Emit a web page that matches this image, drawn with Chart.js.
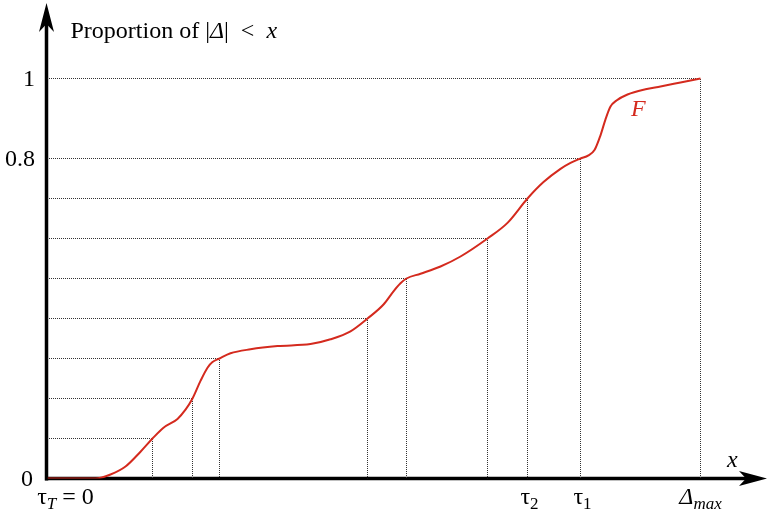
<!DOCTYPE html>
<html>
<head>
<meta charset="utf-8">
<script src="https://cdn.jsdelivr.net/npm/chart.js@4.4.1/dist/chart.umd.min.js"></script>
<style>
  html, body { margin: 0; padding: 0; background: #ffffff; }
  #wrap { width: 768px; height: 512px; }
</style>
</head>
<body>
<div id="wrap"><canvas id="c" width="768" height="512"></canvas></div>
<script>
// ---- data ----
const curveX = [0, 48, 63, 78, 93, 105, 116, 130, 138, 145, 153, 160, 165, 172, 183, 203, 230, 263, 283, 303, 320, 336, 346, 353, 359, 373, 393, 413, 440, 460, 480, 496, 513, 523, 533, 541, 547, 553, 558, 563, 569, 580, 598, 613, 633, 653];
const curveY = [0, 0, 0.010, 0.030, 0.067, 0.1, 0.127, 0.149, 0.172, 0.2, 0.244, 0.277, 0.291, 0.3, 0.313, 0.323, 0.331, 0.336, 0.348, 0.368, 0.4, 0.435, 0.468, 0.488, 0.5, 0.512, 0.530, 0.555, 0.6, 0.639, 0.7, 0.741, 0.774, 0.789, 0.8, 0.808, 0.821, 0.858, 0.898, 0.930, 0.945, 0.960, 0.973, 0.980, 0.990, 1.0];
const levelY = [0.1, 0.2, 0.3, 0.4, 0.5, 0.6, 0.7, 0.8, 1.0];
const levelX = [105, 145, 172, 320, 359, 440, 480, 533, 653];
const yTickValues = [0, 0.8, 1];
const yTickLabels = ['0', '0.8', '1'];
const xTickValues = [480, 533];
const xTickLabels = ['τ', 'τ'];
const xTickSubs = ['2', '1'];
const xOriginLabel = 'τ';
const xOriginSub = 'T';
const xOriginValue = 0;
const xMaxValue = 653;
const xMaxLabel = 'Δ';
const xMaxSub = 'max';
const yTitleParts = [['Proportion of |', false], ['Δ', true], ['|  <  ', false], ['x', true]];
const xTitle = 'x';
const curveName = 'F';

// ---- datasets ----
const curvePoints = curveX.map((x, i) => ({ x: x, y: curveY[i] }));
const datasets = [{
  label: curveName,
  data: curvePoints,
  borderColor: '#d42a1e',
  borderWidth: 2,
  pointRadius: 0,
  cubicInterpolationMode: 'monotone',
  fill: false
}];
levelY.forEach((y, i) => {
  datasets.push({
    label: 'guide' + i,
    data: [{ x: 0, y: y }, { x: levelX[i], y: y }, { x: levelX[i], y: 0 }],
    borderColor: '#333333',
    borderWidth: 1,
    borderDash: [1, 1],
    borderDashOffset: 0.5,
    pointRadius: 0,
    tension: 0,
    fill: false
  });
});

const SERIF = '"Liberation Serif", "DejaVu Serif", serif';
const FS = 24, SFS = 17;

const decor = {
  id: 'decor',
  beforeDatasetsDraw(chart) {
    const ctx = chart.ctx;
    const xs = chart.scales.x, ys = chart.scales.y;
    const x0 = Math.round(xs.getPixelForValue(0)) - 1.5;
    const y0 = ys.getPixelForValue(0);
    ctx.save();
    ctx.strokeStyle = '#000';
    ctx.fillStyle = '#000';
    ctx.lineWidth = 3.5;
    // y axis
    ctx.beginPath();
    ctx.moveTo(x0, y0 + 2);
    ctx.lineTo(x0, 20);
    ctx.stroke();
    // x axis
    ctx.beginPath();
    ctx.moveTo(x0 - 1.5, y0);
    ctx.lineTo(752, y0);
    ctx.stroke();
    // y arrow
    ctx.beginPath();
    ctx.moveTo(x0, 3);
    ctx.lineTo(x0 - 7.5, 32);
    ctx.lineTo(x0, 24);
    ctx.lineTo(x0 + 7.5, 32);
    ctx.closePath();
    ctx.fill();
    // x arrow
    ctx.beginPath();
    ctx.moveTo(767, y0);
    ctx.lineTo(739, y0 - 7.5);
    ctx.lineTo(746, y0);
    ctx.lineTo(739, y0 + 7.5);
    ctx.closePath();
    ctx.fill();
    ctx.restore();
  },
  afterDatasetsDraw(chart) {
    const ctx = chart.ctx;
    const xs = chart.scales.x, ys = chart.scales.y;
    ctx.save();
    ctx.fillStyle = '#000';
    ctx.textBaseline = 'alphabetic';
    // y tick labels
    ctx.font = FS + 'px ' + SERIF;
    ctx.textAlign = 'right';
    yTickValues.forEach((v, i) => {
      ctx.fillText(yTickLabels[i], v === 0 ? 33 : 35, ys.getPixelForValue(v) + 7);
    });
    // y title
    ctx.textAlign = 'left';
    let tx = xs.getPixelForValue(0) + 23;
    yTitleParts.forEach(([t, it]) => {
      ctx.font = (it ? 'italic ' : '') + FS + 'px ' + SERIF;
      ctx.fillText(t, tx, 38);
      tx += ctx.measureText(t).width;
    });
    // x title
    ctx.font = 'italic ' + FS + 'px ' + SERIF;
    ctx.fillText(xTitle, 727, 467);
    // series label
    ctx.fillStyle = '#d42a1e';
    ctx.fillText(curveName, 631, 116);
    ctx.fillStyle = '#000';
    // x labels with subscripts
    const drawSub = (base, sub, cx, baseItalic, subItalic, extra) => {
      ctx.font = (baseItalic ? 'italic ' : '') + FS + 'px ' + SERIF;
      const wb = ctx.measureText(base).width;
      ctx.font = (subItalic ? 'italic ' : '') + SFS + 'px ' + SERIF;
      const ws = ctx.measureText(sub).width;
      ctx.font = FS + 'px ' + SERIF;
      const we = extra ? ctx.measureText(extra).width : 0;
      let x = cx - (wb + ws + we) / 2;
      const by = 504;
      ctx.textAlign = 'left';
      ctx.font = (baseItalic ? 'italic ' : '') + FS + 'px ' + SERIF;
      ctx.fillText(base, x, by);
      x += wb;
      ctx.font = (subItalic ? 'italic ' : '') + SFS + 'px ' + SERIF;
      ctx.fillText(sub, x, by + 5);
      x += ws;
      if (extra) {
        ctx.font = FS + 'px ' + SERIF;
        ctx.fillText(extra, x, by);
      }
    };
    drawSub(xOriginLabel, xOriginSub, xs.getPixelForValue(xOriginValue) + 18, false, true, ' = 0');
    xTickValues.forEach((v, i) => {
      drawSub(xTickLabels[i], xTickSubs[i], xs.getPixelForValue(v) + 2, false, false, '');
    });
    drawSub(xMaxLabel, xMaxSub, xs.getPixelForValue(xMaxValue), true, true, '');
    ctx.restore();
  }
};

new Chart(document.getElementById('c'), {
  type: 'line',
  data: { datasets: datasets },
  options: {
    responsive: false,
    animation: false,
    devicePixelRatio: 1,
    layout: { padding: { left: 47.5, right: 0, top: 4, bottom: 33.5 } },
    plugins: { legend: { display: false }, tooltip: { enabled: false } },
    scales: {
      x: { type: 'linear', min: 0, max: 720.5, display: false },
      y: { type: 'linear', min: 0, max: 1.18625, display: false }
    }
  },
  plugins: [decor]
});
</script>
</body>
</html>
